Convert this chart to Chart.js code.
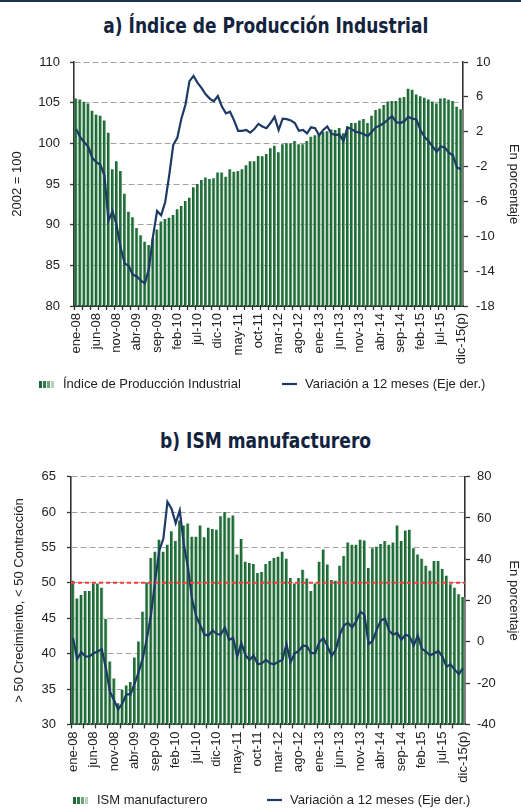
<!DOCTYPE html>
<html>
<head>
<meta charset="utf-8">
<script src="https://cdn.jsdelivr.net/npm/chart.js@4.4.1/dist/chart.umd.min.js"></script>
<style>
  html, body { margin: 0; padding: 0; background: #fff; overflow: hidden; }
  body { width: 521px; height: 808px; position: relative; }
  #topline { position: absolute; left: 0; top: 0; width: 521px; height: 2px; background: #1d3452; }
  .ttl { position: absolute; left: 5px; width: 521px; text-align: center; font-family: "Liberation Sans Narrow", "DejaVu Sans Condensed", "Roboto Condensed", "Liberation Sans", sans-serif; font-weight: bold; font-size: 21px; line-height: 21px; color: #12233d; white-space: nowrap; }
  .ttl span { display: inline-block; transform-origin: center center; }
  .box { position: absolute; left: 0; width: 521px; }
</style>
</head>
<body>
<div id="topline"></div>
<div class="ttl" id="tA" style="top:16px"><span>a) Índice de Producción Industrial</span></div>
<div class="ttl" id="tB" style="top:431px"><span>b) ISM manufacturero</span></div>
<div class="box" style="top:40px;height:362px"><canvas id="cA" width="521" height="362"></canvas></div>
<div class="box" style="top:455px;height:362px"><canvas id="cB" width="521" height="362"></canvas></div>
<script>
// ---------- DATA ----------
const months = ['ene','feb','mar','abr','may','jun','jul','ago','sep','oct','nov','dic'];
const years = ['08','09','10','11','12','13','14','15'];
const categories = [];
years.forEach(y => months.forEach(m => categories.push(m + '-' + y)));
categories[categories.length - 1] = 'dic-15(p)';
const labelEvery = 5;

// a) Índice de Producción Industrial (2002 = 100)
const ipIndex = [
  105.5, 105.4, 105.1, 104.9, 104.0, 103.5, 103.4, 102.8, 101.3, 96.8, 97.8, 96.6,
  93.8, 91.6, 90.9, 89.6, 88.7, 87.9, 87.5, 88.3, 89.4, 90.4, 90.7, 90.85,
  91.2, 91.9, 92.3, 92.9, 93.3, 94.6, 95.0, 95.5, 95.8, 95.6, 95.7, 96.4,
  96.4, 95.9, 96.8, 96.5, 96.6, 96.8, 97.3, 97.8, 97.8, 98.45, 98.4, 98.7,
  99.4, 99.7, 98.9, 99.9, 100.0, 100.0, 100.3, 99.9, 99.9, 100.3, 100.8, 101.0,
  101.1, 101.4, 101.5, 101.7, 101.65, 101.9, 101.25, 102.05, 102.5, 102.5, 102.8, 103.0,
  102.5, 103.4, 104.1, 104.25, 104.7, 105.15, 105.2, 105.2, 105.6, 105.7, 106.7, 106.6,
  106.0, 105.8, 105.6, 105.4, 105.15, 104.9, 105.5, 105.55, 105.35, 105.2, 104.5, 104.2
];
// a) Variación a 12 meses (%)
const ipYoY = [
  2.3, 1.4, 0.8, 0.3, -1.0, -1.5, -1.8, -3.0, -8.2, -7.1, -8.7, -11.3,
  -13.1, -13.4, -14.4, -14.6, -15.1, -15.4, -13.7, -10.0, -7.1, -7.6, -6.1, -3.0,
  0.5, 1.3, 3.5, 5.1, 7.8, 8.4, 7.6, 7.0, 6.3, 5.8, 5.5, 6.1,
  4.9, 4.1, 4.3, 3.3, 2.1, 2.1, 2.2, 1.9, 2.3, 2.9, 2.6, 2.4,
  3.0, 3.7, 2.2, 3.5, 3.45, 3.3, 3.0, 2.1, 2.2, 1.8, 2.5, 2.4,
  1.6, 2.2, 2.6, 1.8, 1.6, 1.7, 0.9, 2.5, 2.3, 2.0, 1.9, 1.7,
  1.5, 2.0, 2.5, 2.7, 3.0, 3.4, 3.8, 3.1, 3.0, 3.2, 3.7, 3.5,
  3.4, 2.2, 1.4, 0.9, 0.3, -0.3, 0.3, 0.2, -0.4, -0.7, -2.1, -2.3
];
// b) ISM manufacturero
const ismIndex = [
  50.3, 47.8, 48.3, 48.85, 48.85, 49.9, 49.9, 49.3, 44.9, 38.9, 36.5, 33.0,
  34.85, 35.5, 36.0, 39.45, 41.7, 45.9, 50.0, 53.5, 54.4, 56.1, 54.4, 55.4,
  57.3, 55.9, 58.8, 58.1, 58.4, 56.5, 56.5, 58.1, 56.45, 57.8, 57.6, 57.5,
  59.4, 60.0, 59.2, 59.5, 54.0, 56.2, 53.0, 52.8, 52.65, 51.4, 51.55, 52.65,
  53.1, 53.5, 53.7, 54.4, 53.4, 50.7, 49.9, 50.7, 51.85, 50.6, 48.85, 49.9,
  53.0, 54.7, 52.6, 50.4, 50.3, 52.4, 53.8, 55.7, 55.4, 55.4, 56.1, 56.0,
  52.1, 54.9, 55.1, 55.5, 55.9, 55.4, 55.7, 58.1, 55.9, 57.4, 57.5, 54.9,
  54.0, 53.4, 52.4, 51.7, 53.1, 53.1, 51.95, 51.0, 49.8, 49.3, 48.4, 48.0
];
// b) Variación a 12 meses (%)
const ismYoY = [
  1.8, -8.3, -5.0, -7.1, -7.1, -5.5, -4.7, -3.6, -12.8, -24.2, -28.3, -32.7,
  -29.9, -25.5, -25.5, -20.2, -14.5, -7.9, 1.8, 13.2, 29.5, 44.2, 49.9, 67.8,
  64.5, 57.5, 63.7, 47.1, 36.0, 20.6, 12.4, 8.0, 3.5, 3.1, 5.6, 3.8,
  3.5, 7.0, 1.0, 1.8, -7.1, -0.6, -6.3, -8.8, -6.6, -10.9, -10.4, -8.8,
  -10.4, -10.9, -9.6, -8.8, -1.1, -9.9, -5.5, -4.4, -1.8, -2.1, -5.5, -5.5,
  -0.1, 1.8, -2.2, -6.8, -3.9, 3.5, 8.0, 9.2, 7.0, 10.0, 14.5, 13.2,
  -1.1, 0.5, 5.9, 10.3, 11.3, 5.4, 3.5, 4.3, 1.0, 3.5, 2.6, -1.8,
  3.1, -3.4, -4.7, -6.6, -5.5, -4.4, -7.1, -12.0, -10.9, -13.6, -15.6, -12.8
];
const ismThreshold = 50;
const lineLabel = 'Variación a 12 meses (Eje der.)';

// ---------- STYLE ----------
const FONT = "'Liberation Sans', Arial, sans-serif";
const TXT = '#222';
const AXIS = '#333';
const NAVY = '#1d3a66';
const GRID = '#a3a3a3';

function titleFit(id, target) {
  const s = document.querySelector('#' + id + ' span');
  const w = s.getBoundingClientRect().width;
  s.style.transform = 'scaleX(' + (target / w) + ')';
}
titleFit('tA', 325);
titleFit('tB', 211);

function barFill(ctx) {
  const chart = ctx.chart;
  const xs = chart.scales && chart.scales.x;
  if (!xs || !xs.ticks || !xs.ticks.length || ctx.dataIndex === undefined) return '#1c6b38';
  const c = xs.getPixelForValue(ctx.dataIndex);
  const w = (xs.width / xs.ticks.length) * 0.76;
  const g = chart.ctx.createLinearGradient(c - w / 2, 0, c + w / 2, 0);
  g.addColorStop(0, '#135d2d');
  g.addColorStop(0.6, '#257540');
  g.addColorStop(1, '#b8cfb4');
  return g;
}

function swatch() {
  const cv = document.createElement('canvas');
  cv.width = 16; cv.height = 7;
  const x = cv.getContext('2d');
  const cols = ['#1a6936', '#2f7c48', '#6fa57c', '#b9d2b9'];
  cols.forEach((c, i) => { x.fillStyle = c; x.fillRect(i * 4, 0, 3, 7); });
  return cv;
}
const SW = swatch();

const thresholdPlugin = {
  id: 'threshold',
  afterDatasetsDraw(chart, args, opts) {
    if (!opts || opts.value === undefined || opts.value === null) return;
    const y = chart.scales.y.getPixelForValue(opts.value);
    const a = chart.chartArea;
    const c = chart.ctx;
    c.save();
    c.strokeStyle = '#ff3b3b';
    c.lineWidth = 2;
    c.setLineDash([4, 3]);
    c.beginPath();
    c.moveTo(a.left, y);
    c.lineTo(a.right, y);
    c.stroke();
    c.restore();
  }
};

// legend drawn on the chart canvas
const legendPlugin = {
  id: 'sideLegend',
  afterDraw(chart, args, o) {
    if (!o || !o.items) return;
    const c = chart.ctx;
    c.save();
    c.font = '13px ' + FONT;
    c.fillStyle = TXT;
    c.textBaseline = 'middle';
    c.textAlign = 'left';
    const it = o.items;
    c.drawImage(SW, it[0].x, Math.round(o.y - 3.5));
    c.fillText(it[0].text, it[0].x + 24, o.y);
    c.strokeStyle = NAVY;
    c.lineWidth = 2.2;
    c.beginPath();
    c.moveTo(it[1].x, o.y);
    c.lineTo(it[1].x + 15, o.y);
    c.stroke();
    c.fillText(it[1].text, it[1].x + 23, o.y);
    c.restore();
  }
};

function makeChart(id, cfg) {
  return new Chart(document.getElementById(id), {
    data: {
      labels: categories,
      datasets: [
        { type: 'bar', label: cfg.barLabel, data: cfg.bars, yAxisID: 'y', order: 1,
          backgroundColor: barFill, borderWidth: 0, barPercentage: 0.95, categoryPercentage: 0.8 },
        { type: 'line', label: lineLabel, data: cfg.line, yAxisID: 'y1', order: 0,
          borderColor: NAVY, borderWidth: 2.2, pointRadius: 0, tension: 0, fill: false }
      ]
    },
    options: {
      responsive: false,
      maintainAspectRatio: false,
      animation: false,
      devicePixelRatio: 1,
      layout: { padding: cfg.padding },
      plugins: {
        tooltip: { enabled: false },
        title: { display: false },
        legend: { display: false },
        threshold: { value: cfg.threshold },
        sideLegend: { y: cfg.legendY, items: [ { x: cfg.legX1, text: cfg.barLabel }, { x: cfg.legX2, text: lineLabel } ] }
      },
      scales: {
        x: {
          type: 'category',
          offset: true,
          afterFit: s => { s.height = cfg.xH; },
          grid: { display: true, drawOnChartArea: false, drawTicks: true, tickLength: 4, tickWidth: 1.3,
                  tickColor: c => (c.index % cfg.tickEvery === 0 ? AXIS : 'rgba(0,0,0,0)'), offset: true },
          border: { display: true, color: AXIS, width: 2 },
          ticks: { autoSkip: false, maxRotation: 90, minRotation: 90, padding: 3, color: TXT,
                   font: { family: FONT, size: 13 },
                   callback: (v, i) => (i % labelEvery === 0 ? categories[i] : '') }
        },
        y: {
          position: 'left',
          min: cfg.yMin, max: cfg.yMax,
          afterFit: s => { s.width = cfg.yW; },
          ticks: { stepSize: cfg.yStep, padding: cfg.yPad, color: TXT, font: { family: FONT, size: 13 } },
          grid: { color: c => (c.index === 0 ? 'rgba(0,0,0,0)' : GRID), lineWidth: 1, drawTicks: true, tickLength: 4,
                  tickColor: AXIS, tickWidth: 1.3, tickBorderDash: [] },
          border: { display: true, color: AXIS, width: 1.6, dash: [6, 3] },
          title: { display: true, text: cfg.yTitle, color: TXT, font: { family: FONT, size: 13 }, padding: { top: cfg.yTitlePad, bottom: 0 } }
        },
        y1: {
          position: 'right',
          min: cfg.rMin, max: cfg.rMax,
          afterFit: s => { s.width = cfg.rW; },
          ticks: { stepSize: cfg.rStep, padding: cfg.rPad, color: TXT, font: { family: FONT, size: 13 } },
          grid: { drawOnChartArea: false, drawTicks: true, tickLength: 5, tickColor: AXIS, tickWidth: 1.3 },
          border: { display: true, color: AXIS, width: 1.6 },
          title: { display: true, text: 'En porcentaje', color: TXT, font: { family: FONT, size: 13 }, padding: { top: cfg.rTitlePad, bottom: 0 } }
        }
      }
    },
    plugins: [thresholdPlugin, legendPlugin]
  });
}

makeChart('cA', {
  barLabel: 'Índice de Producción Industrial',
  bars: ipIndex, line: ipYoY,
  padding: { top: 22, left: 0, right: 0, bottom: 21 },
  xH: 75, tickEvery: 2,
  legendY: 344, legX1: 39, legX2: 282,
  yMin: 80, yMax: 110, yStep: 5, yW: 74, yPad: 10, yTitle: '2002 = 100', yTitlePad: 10,
  rMin: -18, rMax: 10, rStep: 4, rW: 58, rPad: 8, rTitlePad: 0,
  threshold: null
});

makeChart('cB', {
  barLabel: 'ISM manufacturero',
  bars: ismIndex, line: ismYoY,
  padding: { top: 21.7, left: 0, right: 0, bottom: 17.6 },
  xH: 75, tickEvery: 3,
  legendY: 345, legX1: 73, legX2: 267,
  yMin: 30, yMax: 65, yStep: 5, yW: 71, yPad: 11, yTitle: '> 50 Crecimiento, < 50 Contracción', yTitlePad: 12,
  rMin: -40, rMax: 80, rStep: 20, rW: 56, rPad: 7, rTitlePad: 0,
  threshold: ismThreshold
});
</script>
</body>
</html>
